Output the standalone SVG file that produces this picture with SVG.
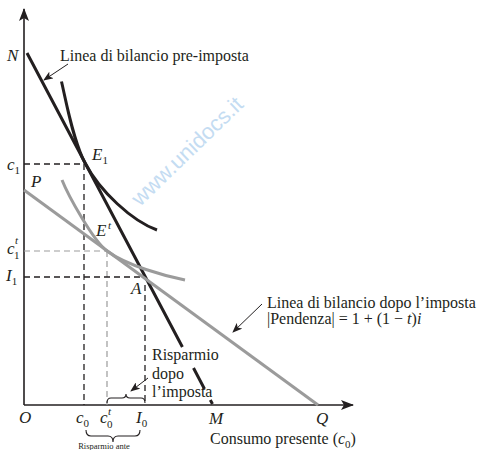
<svg xmlns="http://www.w3.org/2000/svg" width="479" height="450" viewBox="0 0 479 450">
<style>
text{font-family:"Liberation Serif","Times New Roman",serif;fill:#231f20;font-size:16px}
.v{font-style:italic;font-size:17px}
.s{font-size:11px;font-style:normal}
.si{font-size:11px;font-style:italic}
.tiny{font-size:8.5px}
.wm{font-family:"Liberation Sans",Arial,sans-serif;font-size:22px;fill:#c4dcf2}
.ax{stroke:#231f20;stroke-width:1.6;fill:none}
.blk{stroke:#231f20;stroke-width:3;fill:none}
.gry{stroke:#9b9b9b;stroke-width:3;fill:none}
.dk{stroke:#231f20;stroke-width:1.3;stroke-dasharray:6,4;fill:none}
.dg{stroke:#9b9b9b;stroke-width:1.2;stroke-dasharray:6,4;fill:none}
.ptr{stroke:#231f20;stroke-width:1;fill:none;marker-end:url(#ah)}
.br{stroke:#231f20;stroke-width:1.1;fill:none}
</style>
<defs>
<marker id="ah" markerWidth="10" markerHeight="8" refX="9" refY="4" orient="auto" markerUnits="userSpaceOnUse"><path d="M0,0 L10,4 L0,8 L2.5,4 Z" fill="#231f20"/></marker>
<marker id="axh" markerWidth="13" markerHeight="10" refX="12" refY="5" orient="auto" markerUnits="userSpaceOnUse"><path d="M0,0 L13,5 L0,10 L3,5 Z" fill="#231f20"/></marker>
</defs>
<rect width="479" height="450" fill="#ffffff"/>
<text class="wm" transform="translate(140,207) rotate(-44)">www.unidocs.it</text>

<g id="axes">
<line class="ax" x1="24" y1="405" x2="24" y2="9" marker-end="url(#axh)"/>
<line class="ax" x1="24" y1="405" x2="353" y2="405" marker-end="url(#axh)"/>
</g>

<g id="guides">
<path class="dk" d="M24,164 H84 M84,164 V405"/>
<path class="dg" d="M24,251 H107 M107,251 V405"/>
<path class="dk" d="M24,277 H145 M145,285 V405"/>
</g>

<g id="budget-pre">
<path class="blk" d="M27,53 L182.4,347 M193.5,368 L204.5,389 M210.3,400 L212.5,404"/>
</g>
<g id="indiff-pre">
<path class="blk" d="M61.5,81.5 C66,101 73,140.3 85,163 C100,191.4 132,221 157,230"/>
</g>
<g id="budget-post">
<path class="gry" d="M24,190 L318,405"/>
</g>
<g id="indiff-post">
<path class="gry" d="M62,180 C68,195 93,240.7 107,251 C127,265.7 165,276 185,280"/>
</g>

<g id="axis-labels">
<text class="v" x="7" y="61">N</text>
<text class="v" x="7" y="170">c<tspan class="s" dy="4">1</tspan></text>
<text class="v" x="31" y="187">P</text>
<text class="v" x="7" y="254">c</text><text class="si" x="15" y="244">t</text><text class="s" x="14" y="259">1</text>
<text class="v" x="6" y="281">I<tspan class="s" dy="4">1</tspan></text>
<text class="v" x="19" y="423">O</text>
<text class="v" x="76" y="423">c<tspan class="s" dy="4">0</tspan></text>
<text class="v" x="100" y="423">c</text><text class="si" x="108" y="415">t</text><text class="s" x="107" y="428">0</text>
<text class="v" x="136" y="423">I<tspan class="s" dy="4">0</tspan></text>
<text class="v" x="209" y="424">M</text>
<text class="v" x="316" y="424">Q</text>
<text x="210" y="444">Consumo presente (<tspan font-style="italic">c</tspan><tspan class="s" dy="4">0</tspan><tspan dy="-4">)</tspan></text>
</g>

<g id="point-labels">
<text class="v" x="92" y="160">E<tspan class="s" dy="4">1</tspan></text>
<text class="v" x="96" y="236">E</text><text class="si" x="108" y="229">t</text>
<text class="v" x="131" y="294">A</text>
</g>

<g id="label-pre">
<text x="60" y="61">Linea di bilancio pre-imposta</text>
</g>
<g id="label-post">
<text x="267" y="308">Linea di bilancio dopo l’imposta</text>
<text x="267" y="324">|Pendenza| = 1 + (1 − <tspan font-style="italic">t</tspan>)<tspan font-style="italic">i</tspan></text>
</g>
<g id="label-saving-post">
<text x="152" y="360">Risparmio</text>
<text x="152" y="379">dopo</text>
<text x="152" y="397">l’imposta</text>
<path class="br" d="M107,403 Q107,398 111,398 H122 Q126,398 126,394 Q126,398 130,398 H141 Q145,398 145,403"/>
</g>
<g id="label-saving-pre">
<path class="br" d="M86,430 Q86,436 91,436 H108 Q113,436 113,442 Q113,436 118,436 H135 Q140,436 140,430"/>
<text class="tiny" x="104" y="449" text-anchor="middle">Risparmio ante</text>
</g>

<g id="connectors">
<line class="ptr" x1="68" y1="64" x2="44" y2="80"/>
<line class="ptr" x1="262" y1="304" x2="233" y2="332"/>
<line class="ptr" x1="148" y1="378" x2="131" y2="391"/>
</g>
</svg>
